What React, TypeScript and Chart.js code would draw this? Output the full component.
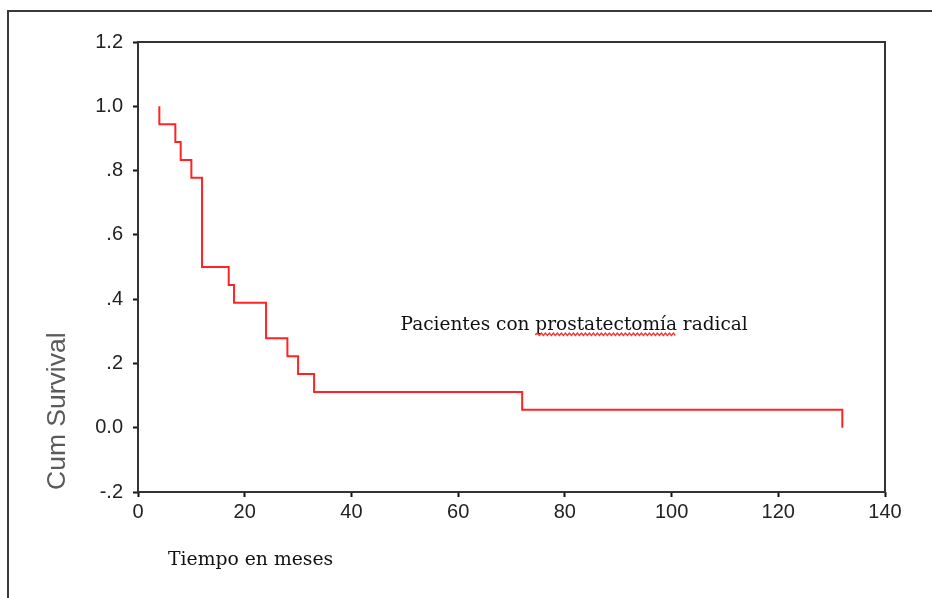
import React, { useEffect, useRef } from "react";
import { Chart, registerables } from "chart.js";

Chart.register(...registerables);

// Kaplan-Meier steps (time in months, cumulative survival after each event)
const months = [4, 4, 7, 8, 10, 12, 17, 18, 24, 28, 30, 33, 72, 132];
const cumSurvival = [1.0, 0.944, 0.889, 0.833, 0.778, 0.5, 0.444, 0.389, 0.278, 0.222, 0.167, 0.111, 0.056, 0.0];

const yTickValues = [-0.2, 0, 0.2, 0.4, 0.6, 0.8, 1.0, 1.2];
const yTickLabels = ["-.2", "0.0", ".2", ".4", ".6", ".8", "1.0", "1.2"];
const xTickValues = [0, 20, 40, 60, 80, 100, 120, 140];

const yTitle = "Cum Survival";
const xTitle = "Tiempo en meses";
const annotationText = "Pacientes con prostatectomía radical";
const underlinedWord = "prostatectomía";
const annotationAt = { x: 49.2, y: 0.304 };

const decorations = {
  id: "decorations",
  beforeDraw(chart: any) {
    const ctx = chart.ctx;
    ctx.save();
    ctx.fillStyle = "#ffffff";
    ctx.fillRect(0, 0, chart.width, chart.height);
    // outer frame
    ctx.strokeStyle = "#3a3a3a";
    ctx.lineWidth = 2;
    ctx.beginPath();
    ctx.moveTo(8, chart.height + 2);
    ctx.lineTo(8, 11);
    ctx.lineTo(chart.width + 2, 11);
    ctx.stroke();
    ctx.restore();
  },
  afterDraw(chart: any) {
    const ctx = chart.ctx;
    const a = chart.chartArea;
    const xs = chart.scales.x;
    const ys = chart.scales.y;
    ctx.save();
    // plot frame
    ctx.strokeStyle = "#333333";
    ctx.lineWidth = 2;
    ctx.strokeRect(a.left, a.top, a.right - a.left, a.bottom - a.top);

    // y title
    ctx.save();
    ctx.translate(58, a.bottom - 2);
    ctx.rotate(-Math.PI / 2);
    ctx.font = "26.5px 'Liberation Sans', Arial, sans-serif";
    ctx.fillStyle = "#5a5a5a";
    ctx.textAlign = "left";
    ctx.textBaseline = "middle";
    ctx.fillText(yTitle, 0, 0);
    ctx.restore();

    // x title
    ctx.font = "18.8px 'DejaVu Serif', serif";
    ctx.fillStyle = "#111";
    ctx.textAlign = "left";
    ctx.textBaseline = "alphabetic";
    ctx.fillText(xTitle, a.left + 30, a.bottom + 73);

    // annotation
    const ax = xs.getPixelForValue(annotationAt.x);
    const ay = ys.getPixelForValue(annotationAt.y);
    ctx.font = "18.5px 'DejaVu Serif', serif";
    ctx.fillText(annotationText, ax, ay);
    const idx = annotationText.indexOf(underlinedWord);
    const x0 = ax + ctx.measureText(annotationText.slice(0, idx)).width;
    const w = ctx.measureText(underlinedWord).width;
    ctx.strokeStyle = "#ff3030";
    ctx.lineWidth = 1.3;
    ctx.beginPath();
    let up = true;
    ctx.moveTo(x0, ay + 5);
    for (let x = x0 + 2; x <= x0 + w; x += 2) {
      ctx.lineTo(x, ay + (up ? 3 : 5.5));
      up = !up;
    }
    ctx.stroke();
    ctx.restore();
  },
};

export default function App() {
  const ref = useRef<HTMLCanvasElement | null>(null);
  useEffect(() => {
    if (!ref.current) return;
    const chart = new Chart(ref.current, {
      type: "line",
      data: {
        datasets: [
          {
            label: "Survival",
            data: months.map((m, i) => ({ x: m, y: cumSurvival[i] })),
            stepped: "before",
            borderColor: "#ff2424",
            borderWidth: 2,
            pointRadius: 0,
            fill: false,
          },
        ],
      },
      options: {
        animation: false,
        responsive: false,
        maintainAspectRatio: false,
        layout: { padding: { left: 0, top: 42, right: 47, bottom: 0 } },
        plugins: { legend: { display: false }, tooltip: { enabled: false } },
        scales: {
          x: {
            type: "linear",
            min: 0,
            max: 140,
            afterBuildTicks: (s: any) => {
              s.ticks = xTickValues.map((v) => ({ value: v }));
            },
            afterFit: (s: any) => {
              s.height = 106;
            },
            border: { display: false },
            grid: {
              display: true,
              drawOnChartArea: false,
              drawTicks: true,
              tickLength: 5,
              tickWidth: 2,
              tickColor: "#111",
            },
            ticks: {
              padding: 3,
              color: "#222",
              font: { family: "'Liberation Sans', Arial, sans-serif", size: 20 },
              maxRotation: 0,
              callback: (v: any) => String(v),
            },
          },
          y: {
            type: "linear",
            min: -0.2,
            max: 1.2,
            afterBuildTicks: (s: any) => {
              s.ticks = yTickValues.map((v) => ({ value: v }));
            },
            afterFit: (s: any) => {
              s.width = 138;
            },
            border: { display: false },
            grid: {
              display: true,
              drawOnChartArea: false,
              drawTicks: true,
              tickLength: 5,
              tickWidth: 2,
              tickColor: "#111",
            },
            ticks: {
              padding: 10,
              color: "#222",
              font: { family: "'Liberation Sans', Arial, sans-serif", size: 20 },
              callback: (v: any) => {
                const i = yTickValues.findIndex((t) => Math.abs(t - Number(v)) < 1e-6);
                return i >= 0 ? yTickLabels[i] : "";
              },
            },
          },
        },
      },
      plugins: [decorations],
    } as any);
    return () => chart.destroy();
  }, []);
  return (
    <div style={{ position: "absolute", left: 0, top: 0, width: 932, height: 598 }}>
      <canvas ref={ref} width={932} height={598} style={{ width: 932, height: 598, display: "block" }} />
    </div>
  );
}
